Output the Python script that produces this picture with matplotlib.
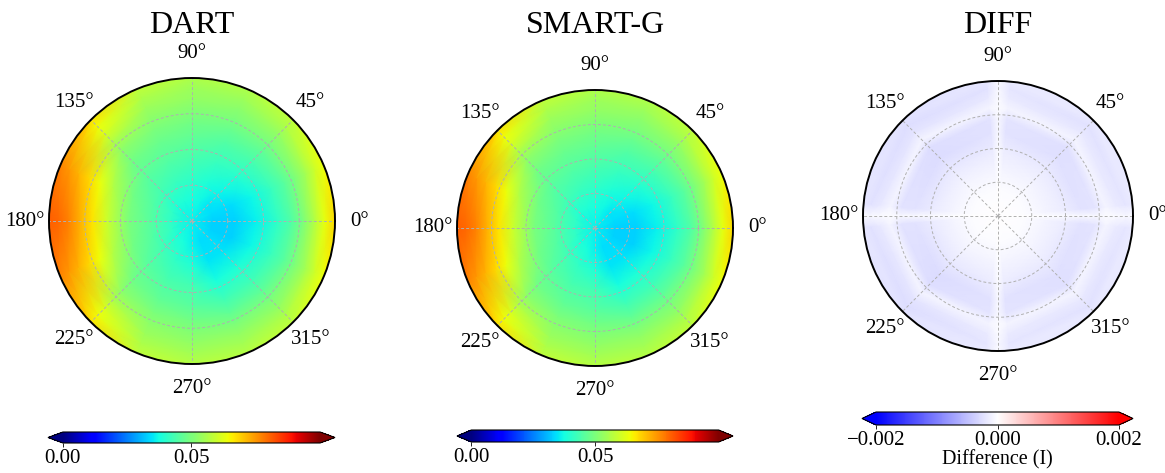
import numpy as np
import matplotlib
matplotlib.use("Agg")
import matplotlib.pyplot as plt

plt.rcParams["font.family"] = ["Liberation Serif", "DejaVu Serif"]

# ---------------- data ----------------
TITLES = ["DART", "SMART-G", "DIFF"]
THETA_TICKS = [0, 45, 90, 135, 180, 225, 270, 315]
THETA_LABELS = ["0°", "45°", "90°", "135°", "180°", "225°", "270°", "315°"]

# azimuth nodes (deg) and normalised radius nodes for the two intensity maps
AZIMUTH_DEG = [0, 22.5, 45, 67.5, 90, 112.5, 135, 157.5,
               180, 202.5, 225, 247.5, 270, 292.5, 315, 337.5]
RADIUS_NORM = [0.0, 0.15, 0.30, 0.45, 0.60, 0.70, 0.78, 0.86, 0.93, 1.0]

# intensity, one row per azimuth, one column per radius node
DART = [
    [0.036, 0.033, 0.033, 0.036, 0.041, 0.045, 0.050, 0.057, 0.063, 0.068],
    [0.036, 0.034, 0.034, 0.037, 0.042, 0.046, 0.050, 0.055, 0.060, 0.064],
    [0.036, 0.035, 0.037, 0.040, 0.044, 0.047, 0.050, 0.053, 0.056, 0.058],
    [0.036, 0.037, 0.039, 0.042, 0.045, 0.048, 0.050, 0.052, 0.054, 0.056],
    [0.036, 0.038, 0.041, 0.044, 0.047, 0.049, 0.051, 0.053, 0.054, 0.056],
    [0.036, 0.039, 0.042, 0.045, 0.048, 0.050, 0.052, 0.054, 0.056, 0.058],
    [0.036, 0.039, 0.043, 0.046, 0.049, 0.052, 0.056, 0.061, 0.064, 0.067],
    [0.036, 0.041, 0.045, 0.049, 0.057, 0.064, 0.068, 0.072, 0.075, 0.077],
    [0.036, 0.041, 0.046, 0.050, 0.060, 0.067, 0.072, 0.077, 0.080, 0.081],
    [0.036, 0.041, 0.045, 0.049, 0.057, 0.064, 0.068, 0.072, 0.075, 0.077],
    [0.036, 0.039, 0.043, 0.046, 0.049, 0.052, 0.056, 0.061, 0.064, 0.067],
    [0.036, 0.038, 0.041, 0.044, 0.047, 0.050, 0.052, 0.054, 0.056, 0.058],
    [0.036, 0.036, 0.039, 0.043, 0.046, 0.049, 0.051, 0.053, 0.055, 0.057],
    [0.036, 0.034, 0.035, 0.038, 0.043, 0.047, 0.050, 0.053, 0.055, 0.057],
    [0.036, 0.034, 0.035, 0.039, 0.043, 0.047, 0.050, 0.053, 0.056, 0.058],
    [0.036, 0.033, 0.033, 0.037, 0.042, 0.046, 0.050, 0.055, 0.060, 0.064],
]

SMARTG = [
    [0.036, 0.033, 0.033, 0.036, 0.041, 0.045, 0.050, 0.057, 0.063, 0.068],
    [0.036, 0.034, 0.034, 0.037, 0.042, 0.046, 0.050, 0.055, 0.060, 0.064],
    [0.036, 0.035, 0.037, 0.040, 0.044, 0.047, 0.050, 0.053, 0.056, 0.058],
    [0.036, 0.037, 0.039, 0.042, 0.045, 0.048, 0.050, 0.052, 0.054, 0.056],
    [0.036, 0.038, 0.041, 0.044, 0.047, 0.049, 0.051, 0.053, 0.054, 0.056],
    [0.036, 0.039, 0.042, 0.045, 0.048, 0.050, 0.052, 0.054, 0.056, 0.058],
    [0.036, 0.039, 0.043, 0.046, 0.049, 0.052, 0.056, 0.061, 0.064, 0.067],
    [0.036, 0.041, 0.045, 0.049, 0.057, 0.064, 0.068, 0.072, 0.075, 0.077],
    [0.036, 0.041, 0.046, 0.050, 0.060, 0.067, 0.072, 0.077, 0.080, 0.081],
    [0.036, 0.041, 0.045, 0.049, 0.057, 0.064, 0.068, 0.072, 0.075, 0.077],
    [0.036, 0.039, 0.043, 0.046, 0.049, 0.052, 0.056, 0.061, 0.064, 0.067],
    [0.036, 0.038, 0.041, 0.044, 0.047, 0.050, 0.052, 0.054, 0.056, 0.058],
    [0.036, 0.036, 0.039, 0.043, 0.046, 0.049, 0.051, 0.053, 0.055, 0.057],
    [0.036, 0.034, 0.035, 0.038, 0.043, 0.047, 0.050, 0.053, 0.055, 0.057],
    [0.036, 0.034, 0.035, 0.039, 0.043, 0.047, 0.050, 0.053, 0.056, 0.058],
    [0.036, 0.033, 0.033, 0.037, 0.042, 0.046, 0.050, 0.055, 0.060, 0.064],
]

# difference map (DART - SMART-G): extra azimuth nodes next to the 0/90/180/270 lines
DIFF_AZIMUTH_DEG = [0, 5, 45, 85, 90, 95, 135, 175,
                    180, 185, 225, 265, 270, 275, 315, 355]
DIFF_RADIUS_NORM = [0.0, 0.20, 0.35, 0.50, 0.62, 0.72, 0.80, 0.88, 0.95, 1.0]
DIFF = [
    [0.0, 0.0, -0.00002, -0.00004, -0.00006, -0.00005, -0.00002, -0.00004, -0.00005, -0.00004],
    [0.0, -0.00003, -0.00008, -0.00015, -0.00022, -0.00021, -0.00008, -0.00016, -0.00019, -0.00016],
    [0.0, -0.00003, -0.00009, -0.00017, -0.00025, -0.00024, -0.00008, -0.00018, -0.00022, -0.00018],
    [0.0, -0.00003, -0.00008, -0.00015, -0.00022, -0.00021, -0.00008, -0.00016, -0.00019, -0.00016],
    [0.0, 0.0, -0.00002, -0.00004, -0.00006, -0.00005, -0.00002, -0.00004, -0.00005, -0.00004],
    [0.0, -0.00003, -0.00008, -0.00016, -0.00023, -0.00022, -0.00008, -0.00018, -0.00022, -0.00019],
    [0.0, -0.00003, -0.00009, -0.00018, -0.00027, -0.00026, -0.00009, -0.00021, -0.00026, -0.00022],
    [0.0, -0.00003, -0.00008, -0.00016, -0.00023, -0.00022, -0.00008, -0.00018, -0.00022, -0.00019],
    [0.0, 0.0, -0.00002, -0.00004, -0.00006, -0.00005, -0.00002, -0.00004, -0.00005, -0.00004],
    [0.0, -0.00003, -0.00008, -0.00016, -0.00023, -0.00022, -0.00008, -0.00018, -0.00022, -0.00019],
    [0.0, -0.00003, -0.00009, -0.00018, -0.00027, -0.00026, -0.00009, -0.00021, -0.00026, -0.00022],
    [0.0, -0.00003, -0.00008, -0.00015, -0.00022, -0.00021, -0.00008, -0.00016, -0.00019, -0.00016],
    [0.0, 0.0, -0.00002, -0.00004, -0.00006, -0.00005, -0.00002, -0.00004, -0.00005, -0.00004],
    [0.0, -0.00003, -0.00008, -0.00015, -0.00022, -0.00021, -0.00008, -0.00016, -0.00019, -0.00016],
    [0.0, -0.00003, -0.00009, -0.00017, -0.00025, -0.00024, -0.00008, -0.00018, -0.00022, -0.00018],
    [0.0, -0.00003, -0.00008, -0.00015, -0.00022, -0.00021, -0.00008, -0.00016, -0.00019, -0.00016],
]

INTENSITY_TICKS = [0.0, 0.05]
INTENSITY_TICKLABELS = ["0.00", "0.05"]
DIFF_TICKS = [-0.002, 0.0, 0.002]
DIFF_TICKLABELS = ["\u22120.002", "0.000", "0.002"]
DIFF_LABEL = "Difference (I)"


# ---------------- drawing ----------------
def mesh(az_deg, rad, vals, r_edge=1.06):
    th = np.deg2rad(np.append(np.asarray(az_deg, float), 360.0))
    v = np.asarray(vals, float)
    v = np.vstack([v, v[:1]])          # close the azimuth circle
    v = np.hstack([v, v[:, -1:]])      # carry the rim value just past the rim
    r = np.append(np.asarray(rad, float), r_edge)
    T, R = np.meshgrid(th, r, indexing="ij")
    return T, R, v


fig = plt.figure(figsize=(11.65, 4.73), dpi=100)
W, H = 1165.0, 473.0

# (cx, cy, radius) in pixels; colorbar incl. extension tips (x0, x1, ytop, ybottom)
panels = [
    dict(title=TITLES[0], data=(AZIMUTH_DEG, RADIUS_NORM, DART), cmap="jet",
         vmin=0.0, vmax=0.1, circ=(192, 221, 143), cbar=(48, 335, 432, 443),
         ticks=INTENSITY_TICKS, ticklabels=INTENSITY_TICKLABELS, label=None),
    dict(title=TITLES[1], data=(AZIMUTH_DEG, RADIUS_NORM, SMARTG), cmap="jet",
         vmin=0.0, vmax=0.1, circ=(595, 228, 138), cbar=(457, 733, 430, 442),
         ticks=INTENSITY_TICKS, ticklabels=INTENSITY_TICKLABELS, label=None),
    dict(title=TITLES[2], data=(DIFF_AZIMUTH_DEG, DIFF_RADIUS_NORM, DIFF), cmap="bwr",
         vmin=-0.002, vmax=0.002, circ=(998, 216, 135), cbar=(862, 1133, 412, 425),
         ticks=DIFF_TICKS, ticklabels=DIFF_TICKLABELS, label=DIFF_LABEL),
]

for p in panels:
    cx, cy, R = p["circ"]
    ax = fig.add_axes([(cx - R) / W, 1 - (cy + R) / H, 2 * R / W, 2 * R / H],
                      projection="polar")
    T, Rr, V = mesh(*p["data"])
    m = ax.pcolormesh(T, Rr, V, cmap=p["cmap"], vmin=p["vmin"], vmax=p["vmax"],
                      shading="gouraud")
    ax.set_ylim(0, 1.0)
    ax.set_rticks([0.25, 0.5, 0.75, 1.0])
    ax.set_yticklabels([])
    ax.set_thetagrids(THETA_TICKS, labels=THETA_LABELS, fontsize=15)
    ax.tick_params(axis="x", pad=7)
    ax.grid(True, color="#b0b0b0", linestyle=(0, (3, 2.2)), linewidth=0.7)
    ax.spines["polar"].set_linewidth(1.4)
    ax.spines["polar"].set_color("black")

    fig.text(cx / W, 1 - 33 / H, p["title"], ha="center", va="baseline",
             fontsize=23)

    x0, x1, yt, yb = p["cbar"]
    cax = fig.add_axes([x0 / W, 1 - yb / H, (x1 - x0) / W, (yb - yt) / H])
    cb = fig.colorbar(m, cax=cax, orientation="horizontal", extend="both",
                      extendfrac=0.058, ticks=p["ticks"])
    cb.ax.set_xticklabels(p["ticklabels"])
    cb.ax.tick_params(labelsize=15, length=3, width=0.6, pad=1.5)
    cb.outline.set_linewidth(0.8)
    if p["label"]:
        cb.set_label(p["label"], fontsize=14.5, labelpad=0)

fig.savefig("out.png", dpi=100, facecolor="white")
